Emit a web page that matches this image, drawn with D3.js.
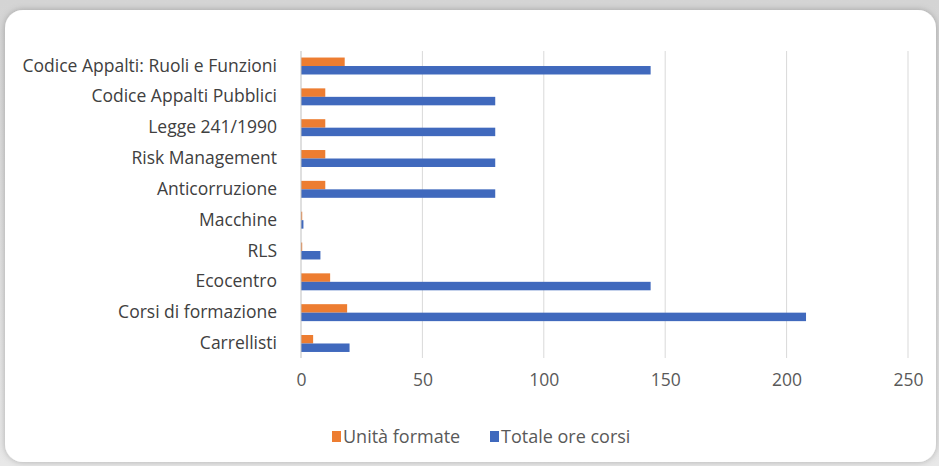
<!DOCTYPE html>
<html lang="it">
<head>
<meta charset="utf-8">
<title>Unità formate e ore corsi</title>
<script src="https://cdn.jsdelivr.net/npm/d3@7"></script>
<style>
  html, body { margin: 0; padding: 0; background: #dcdcdc; }
  body { font-family: "Open Sans", sans-serif; }
</style>
</head>
<body>
<div id="chart"></div>
<script>
const categories = ["Codice Appalti: Ruoli e Funzioni", "Codice Appalti Pubblici", "Legge 241/1990",
  "Risk Management", "Anticorruzione", "Macchine", "RLS", "Ecocentro", "Corsi di formazione", "Carrellisti"];
const unitaFormate = [18, 10, 10, 10, 10, 0.5, 0.5, 12, 19, 5];
const totaleOre = [144, 80, 80, 80, 80, 1, 8, 144, 208, 20];
const seriesNames = ["Unità formate", "Totale ore corsi"];
const seriesColors = ["#ED7D31", "#4069BD"];
const xTicks = [0, 50, 100, 150, 200, 250];

const w = 939, h = 466;
const font = "'Open Sans', sans-serif";

const svg = d3.select("#chart").append("svg")
  .attr("width", w).attr("height", h);

// grey backdrop with soft shadow around the white card
const defs = svg.append("defs");
const bg = defs.append("linearGradient").attr("id", "bg").attr("x1", 0).attr("y1", 0).attr("x2", 0).attr("y2", 1);
bg.append("stop").attr("offset", "0").attr("stop-color", "#d4d4d4");
bg.append("stop").attr("offset", "1").attr("stop-color", "#e8e8e8");
svg.append("rect").attr("width", w).attr("height", h).attr("fill", "url(#bg)");

const shadow = defs.append("filter").attr("id", "shadow")
  .attr("x", "-5%").attr("y", "-5%").attr("width", "110%").attr("height", "110%");
shadow.append("feDropShadow").attr("dx", 0).attr("dy", 0).attr("stdDeviation", 3)
  .attr("flood-color", "#000").attr("flood-opacity", 0.25);

svg.append("rect")
  .attr("x", 5).attr("y", 10).attr("width", w - 8).attr("height", h - 14)
  .attr("rx", 18).attr("fill", "#fff").attr("filter", "url(#shadow)");

const margin = { left: 301, right: 31, top: 51, bottom: 108 };

const x = d3.scaleLinear().domain([0, 250]).range([margin.left, w - margin.right]);
// band step ~30.8px, bars fill ~55% of each step
const y = d3.scaleBand().domain(categories).range([50.6, 358.9])
  .paddingInner(0.45).paddingOuter(0.225);
const sub = d3.scaleBand().domain(seriesNames).range([0, y.bandwidth()]);

// gridlines
svg.append("g")
  .selectAll("line")
  .data(xTicks.slice(1))
  .join("line")
  .attr("x1", d => x(d)).attr("x2", d => x(d))
  .attr("y1", margin.top).attr("y2", h - margin.bottom)
  .attr("stroke", "#d9d9d9").attr("stroke-width", 1);

// x axis labels
const xAxis = d3.axisBottom(x).tickValues(xTicks).tickSize(0).tickPadding(13);
const gx = svg.append("g")
  .attr("transform", `translate(0,${h - margin.bottom + 3})`)
  .call(xAxis);
gx.select(".domain").remove();
gx.selectAll("text").attr("font-family", font).attr("font-size", 17.5).attr("fill", "#595959");

// bars
const series = [unitaFormate, totaleOre];
series.forEach((vals, si) => {
  svg.append("g")
    .selectAll("rect")
    .data(categories)
    .join("rect")
    .attr("x", x(0))
    .attr("y", c => y(c) + sub(seriesNames[si]))
    .attr("width", (c, i) => x(vals[i]) - x(0))
    .attr("height", sub.bandwidth())
    .attr("fill", seriesColors[si]);
});

// category axis
const yAxis = d3.axisLeft(y).tickSize(0).tickPadding(24);
const gy = svg.append("g")
  .attr("transform", `translate(${x(0)},0)`)
  .call(yAxis);
gy.select(".domain").attr("stroke", "#bfbfbf").attr("d", `M0,${margin.top}V${h - margin.bottom}`);
gy.selectAll("text").attr("font-family", font).attr("font-size", 17.5).attr("fill", "#404040");

// legend
const legendItems = [{ x: 332, name: seriesNames[0], color: seriesColors[0] },
                     { x: 490, name: seriesNames[1], color: seriesColors[1] }];
const legend = svg.append("g").selectAll("g").data(legendItems).join("g")
  .attr("transform", d => `translate(${d.x},437)`);
legend.append("rect").attr("x", 0).attr("y", -6).attr("width", 9).attr("height", 11).attr("fill", d => d.color);
legend.append("text").attr("x", 11).attr("dy", "0.35em")
  .attr("font-family", font).attr("font-size", 18).attr("fill", "#595959")
  .text(d => d.name);
</script>
</body>
</html>
